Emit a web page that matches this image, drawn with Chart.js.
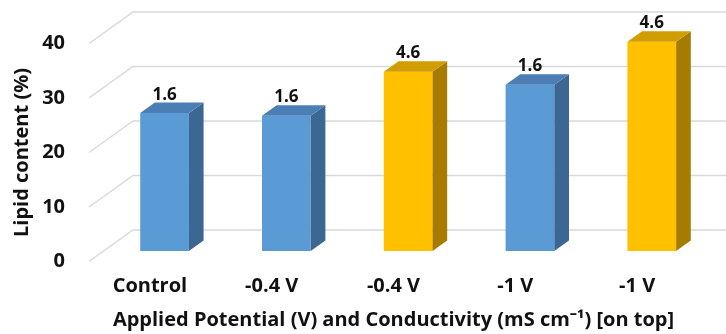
<!DOCTYPE html>
<html>
<head>
<meta charset="utf-8">
<script src="https://cdn.jsdelivr.net/npm/chart.js@4"></script>
<style>
  body { margin: 0; background: #fff; }
  #wrap { width: 726px; height: 334px; }
</style>
</head>
<body>
<div id="wrap"><canvas id="myChart" width="726" height="334"></canvas></div>
<script>
// data
const categories = ["Control", "-0.4 V", "-0.4 V", "-1 V", "-1 V"];
const lipidContent = [25.3, 24.8, 32.9, 30.5, 38.4];
const conductivity = ["1.6", "1.6", "4.6", "1.6", "4.6"];
const yTicks = [0, 10, 20, 30, 40];

// 3d look
const depth = { dx: 44, dy: -31.5 };
const barShift = 1 / 3; // bars sit in the middle third of the box depth

const faceColors = {
  "1.6": { front: "#5B9BD5", top: "#4A7EB5", side: "#3C6793" },
  "4.6": { front: "#FFC000", top: "#D19D00", side: "#A67C00" },
};

const box3d = {
  id: "box3d",
  beforeDatasetsDraw(chart) {
    const { ctx, chartArea: a, scales } = chart;
    ctx.save();
    ctx.strokeStyle = "#d9d9d9";
    ctx.lineWidth = 1.5;
    yTicks.forEach((v) => {
      const py = scales.y.getPixelForValue(v);
      ctx.beginPath();
      ctx.moveTo(a.left, py);
      ctx.lineTo(a.left + depth.dx, py + depth.dy);
      ctx.lineTo(chart.width, py + depth.dy);
      ctx.stroke();
    });
    ctx.restore();
    // front faces get pushed back into the box
    ctx.save();
    ctx.translate(depth.dx * barShift, depth.dy * barShift);
  },
  afterDatasetsDraw(chart) {
    const { ctx } = chart;
    ctx.restore();
    const fx = depth.dx * barShift;
    const fy = depth.dy * barShift;
    const sx = depth.dx / 3;
    const sy = depth.dy / 3;
    const meta = chart.getDatasetMeta(0);
    meta.data.forEach((bar, i) => {
      const p = bar.getProps(["x", "y", "base", "width"], true);
      const l = p.x - p.width / 2 + fx;
      const r = p.x + p.width / 2 + fx;
      const t = p.y + fy;
      const b = p.base + fy;
      const c = faceColors[conductivity[i]];
      ctx.save();
      // side
      ctx.fillStyle = c.side;
      ctx.beginPath();
      ctx.moveTo(r, t);
      ctx.lineTo(r + sx, t + sy);
      ctx.lineTo(r + sx, b + sy);
      ctx.lineTo(r, b);
      ctx.closePath();
      ctx.fill();
      // top
      ctx.fillStyle = c.top;
      ctx.beginPath();
      ctx.moveTo(l, t);
      ctx.lineTo(l + sx, t + sy);
      ctx.lineTo(r + sx, t + sy);
      ctx.lineTo(r, t);
      ctx.closePath();
      ctx.fill();
      // conductivity label
      ctx.fillStyle = "#111";
      ctx.font = "bold 17px 'Open Sans'";
      ctx.textAlign = "center";
      ctx.textBaseline = "alphabetic";
      ctx.fillText(conductivity[i], (l + r) / 2, t + sy - 3);
      ctx.restore();
    });
  },
};

const config = {
  type: "bar",
  data: {
    labels: categories,
    datasets: [
      {
        label: "Lipid content",
        data: lipidContent,
        backgroundColor: conductivity.map((c) => faceColors[c].front),
        borderWidth: 0,
        barPercentage: 0.4,
        categoryPercentage: 1,
      },
    ],
  },
  options: {
    responsive: false,
    animation: false,
    layout: { padding: { top: 43.5, right: 28, left: 0, bottom: 0 } },
    plugins: {
      legend: { display: false },
      tooltip: { enabled: false },
    },
    scales: {
      x: {
        grid: { display: false },
        border: { display: false },
        ticks: {
          padding: 5,
          color: "#111",
          font: { family: "'Open Sans'", size: 20, weight: "bold" },
        },
        title: {
          display: true,
          text: "Applied Potential (V) and Conductivity (mS cm\u207B\u00B9) [on top]",
          color: "#111",
          font: { family: "'Open Sans'", size: 20, weight: "bold" },
          padding: { top: 4, bottom: 2 },
        },
        afterFit: (s) => {
          s.height = 72.5;
        },
      },
      y: {
        min: 0,
        max: 40,
        grid: { display: false },
        border: { display: false },
        ticks: {
          stepSize: 10,
          padding: 16,
          color: "#111",
          font: { family: "'Open Sans'", size: 20, weight: "bold" },
        },
        title: {
          display: true,
          text: "Lipid content (%)",
          color: "#111",
          font: { family: "'Open Sans'", size: 20, weight: "bold" },
          padding: { top: 10, bottom: 0 },
        },
        afterFit: (s) => {
          s.width = 89;
        },
      },
    },
  },
  plugins: [box3d],
};

new Chart(document.getElementById("myChart"), config);
</script>
</body>
</html>
